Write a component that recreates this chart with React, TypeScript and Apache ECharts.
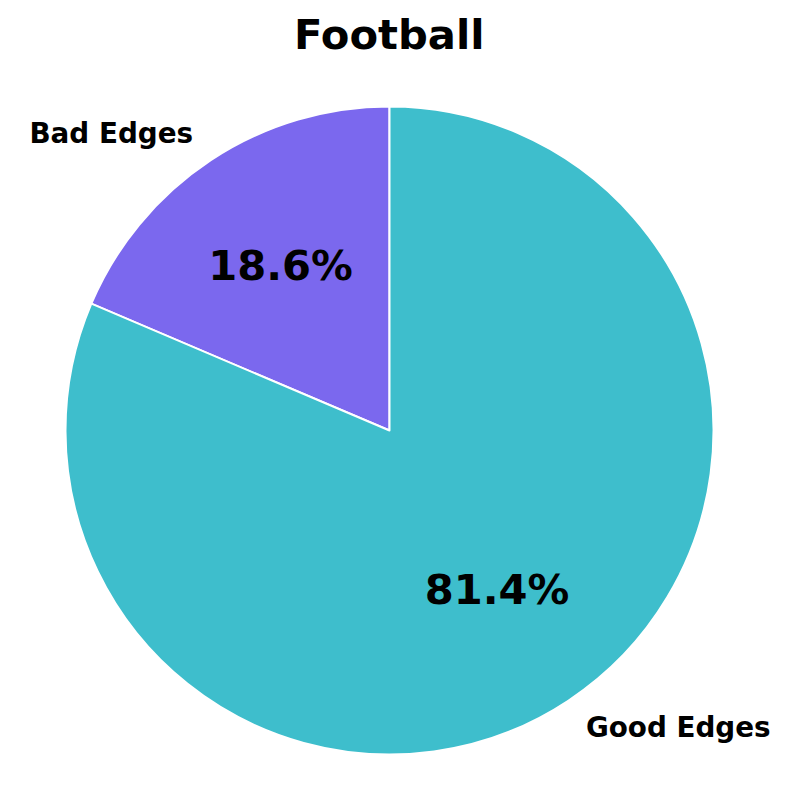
import React, { useEffect, useRef } from "react";
import * as echarts from "echarts";

const titleText = "Football";
const categories = ["Bad Edges", "Good Edges"];
const values = [18.6, 81.4];
const colors = ["#7B68EE", "#3EBECC"];

export default function App() {
  const ref = useRef<HTMLDivElement>(null);
  useEffect(() => {
    if (!ref.current) return;
    const chart = echarts.init(ref.current, null, { renderer: "svg" });
    const data = categories.map((c, i) => ({
      name: c,
      value: values[i],
      itemStyle: { color: colors[i] },
    }));
    const pctOffsets = [
      [0, 0],
      [-1.5, -6],
    ];
    const font = "DejaVu Sans";
    chart.setOption({
      animation: false,
      title: {
        text: titleText,
        left: 289,
        top: 8,
        textStyle: { fontFamily: font, fontWeight: "bold", fontSize: 41.7, color: "#000" },
      },
      series: [
        {
          type: "pie",
          center: [389.5, 430.5],
          radius: [0, 324],
          startAngle: 90,
          clockwise: false,
          silent: true,
          data,
          itemStyle: { borderColor: "#fff", borderWidth: 2 },
          label: {
            show: true,
            position: "outside",
            formatter: "{b}",
            fontFamily: font,
            fontWeight: "bold",
            fontSize: 27.8,
            color: "#000",
            distanceToLabelLine: 0,
          },
          labelLine: { show: false, length: 32, length2: 0 },
        },
        {
          type: "pie",
          center: [389.5, 430.5],
          radius: [0, 389],
          startAngle: 90,
          clockwise: false,
          silent: true,
          z: 10,
          data: data.map((d, i) => ({
            ...d,
            itemStyle: { color: "transparent", borderWidth: 0 },
            label: { offset: pctOffsets[i] },
          })),
          label: {
            show: true,
            position: "inside",
            formatter: (p: any) => p.value.toFixed(1) + "%",
            fontFamily: font,
            fontWeight: "bold",
            fontSize: 41.7,
            color: "#000",
          },
          labelLine: { show: false },
        },
      ],
    });
    return () => chart.dispose();
  }, []);
  return (
    <div
      ref={ref}
      style={{ position: "fixed", left: 0, top: 0, width: 800, height: 800, background: "#fff" }}
    />
  );
}
